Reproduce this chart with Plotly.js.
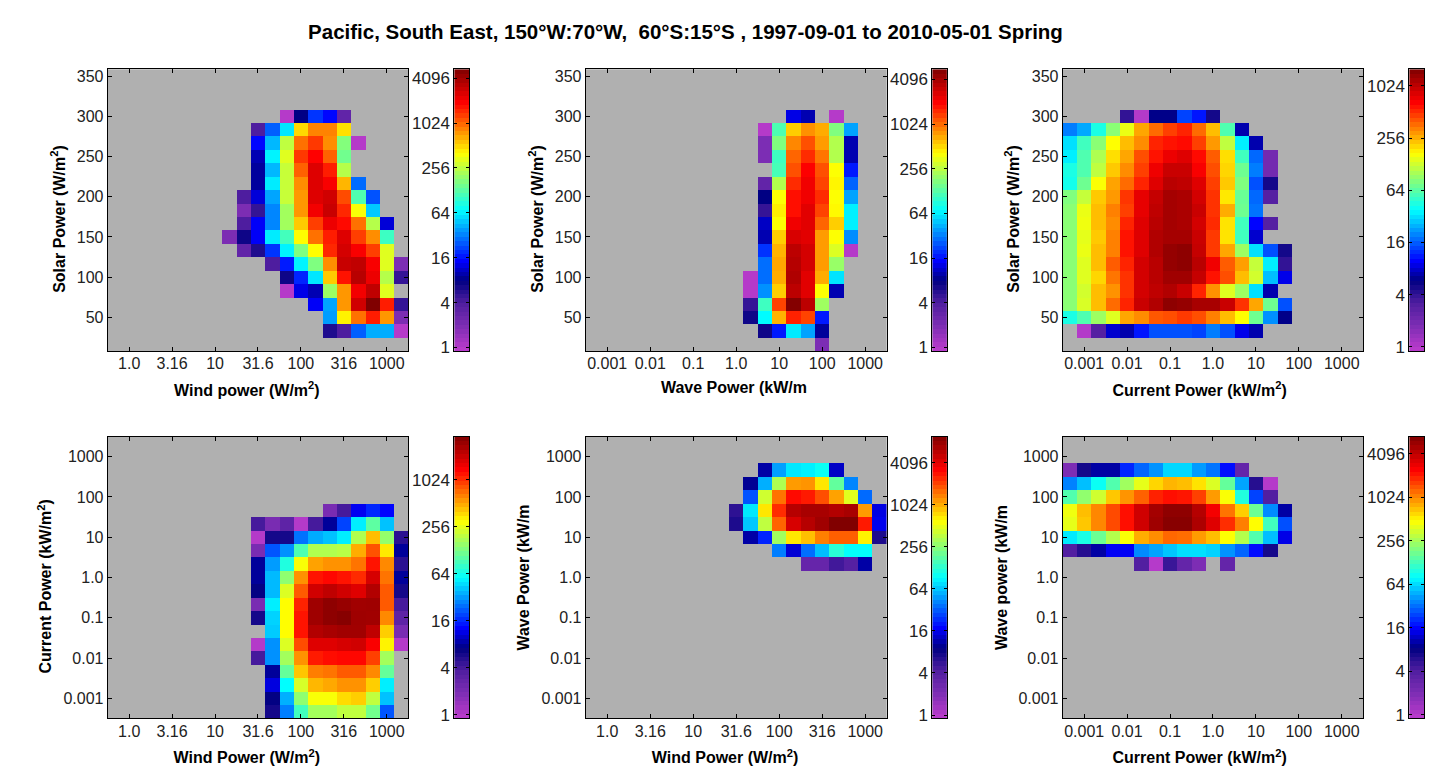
<!DOCTYPE html>
<html>
<head>
<meta charset="utf-8">
<script src="https://cdn.plot.ly/plotly-3.0.1.min.js"></script>
<style>body { margin: 0; background: #fff; }</style>
</head>
<body>
<div id="main-plot"></div>
<script>
const gap = n => Array(n).fill(0);

// axis ticks
const powerTickVals = [-3, -2, -1, 0, 1, 2, 3];
const powerTickText = ['0.001', '0.01', '0.1', '1.0', '10', '100', '1000'];
const windTickVals = [0, 0.5, 1, 1.5, 2, 2.5, 3];
const windTickText = ['1.0', '3.16', '10', '31.6', '100', '316', '1000'];
const solarTickVals = [50, 100, 150, 200, 250, 300, 350];

// colour bar ticks are counts on a log2 scale
const countTicks = [1, 4, 16, 64, 256, 1024, 4096];
const countTicksShort = [1, 4, 16, 64, 256, 1024];

// counts per bin, rows go from the bottom of the plot upward
const solarVsWind = [
  [],
  [...gap(15), 6, 4, 26, 42, 42, 1],
  [...gap(15), 38, 430, 950, 1600, 750, 2],
  [...gap(14), 14, 40, 750, 2800, 5400, 1600, 5],
  [...gap(12), 1, 13, 10, 200, 750, 2100, 3200, 320],
  [...gap(12), 7, 18, 60, 550, 1700, 3400, 2200, 240, 5],
  [...gap(11), 4, 17, 65, 165, 800, 3000, 3200, 2000, 320, 2],
  [...gap(9), 3, 6, 20, 65, 165, 400, 1500, 2700, 2000, 1300, 320],
  [...gap(8), 2, 7, 14, 62, 110, 400, 950, 1600, 2500, 1300, 800, 105],
  [...gap(9), 4, 14, 33, 210, 550, 1300, 2200, 1800, 950, 240, 12],
  [...gap(9), 2, 5, 33, 210, 750, 2100, 3000, 1500, 380, 50],
  [...gap(9), 4, 12, 40, 270, 750, 2500, 2800, 1200, 120, 24],
  [...gap(10), 9, 62, 270, 800, 2500, 2000, 620, 28],
  [...gap(10), 9, 45, 270, 1050, 2500, 1600, 240],
  [...gap(10), 10, 65, 320, 1350, 1900, 1050, 150],
  [...gap(10), 15, 45, 256, 950, 1350, 800, 170, 1],
  [...gap(10), 4, 26, 60, 500, 850, 850, 480],
  [...gap(12), 1, 8, 20, 15, 3],
  [], [], []
];

const solarVsWave = [
  [...gap(16), 2],
  [...gap(12), 7, 17, 62, 40, 9],
  [...gap(11), 7, 70, 650, 1600, 1300, 17],
  [...gap(11), 5, 108, 1300, 5400, 3400, 210],
  [...gap(11), 1, 36, 550, 3400, 2500, 400, 10],
  [...gap(11), 1, 29, 680, 3800, 2500, 680, 60],
  [...gap(12), 29, 700, 3600, 2800, 750, 200],
  [...gap(12), 20, 650, 3400, 2800, 750, 320, 1],
  [...gap(12), 10, 550, 2700, 2500, 750, 400, 35],
  [...gap(12), 11, 400, 2200, 2500, 1050, 550, 65],
  [...gap(12), 5, 450, 1800, 2500, 1300, 420, 65],
  [...gap(12), 8, 400, 1800, 2200, 1500, 400, 40],
  [...gap(12), 3, 240, 1500, 2200, 1300, 430, 27],
  [...gap(13), 115, 1200, 2000, 1200, 400, 17],
  [...gap(12), 2, 108, 1050, 1500, 950, 240, 10],
  [...gap(12), 2, 170, 850, 1200, 750, 240, 10],
  [...gap(12), 1, 120, 550, 800, 680, 170, 40],
  [...gap(14), 13, 10, 0, 1],
  [], [], []
];

const solarVsCurrent = [
  [],
  [0, 1, 3, 8, 7, 11, 15, 15, 15, 14, 19, 15, 9, 7],
  [44, 60, 95, 140, 270, 310, 410, 430, 480, 430, 330, 240, 169, 72, 21, 6],
  [85, 135, 240, 370, 540, 950, 1130, 1450, 1380, 1200, 1200, 950, 500, 270, 72, 15],
  [85, 130, 240, 300, 500, 890, 1024, 1130, 950, 540, 300, 140, 95, 32, 7],
  [85, 140, 210, 350, 500, 890, 1070, 1270, 1270, 980, 590, 430, 240, 130, 27, 9],
  [85, 140, 240, 400, 540, 890, 1070, 1380, 1450, 1070, 720, 400, 280, 120, 35, 4],
  [85, 150, 240, 330, 590, 815, 1130, 1380, 1450, 980, 480, 270, 95, 32, 15, 5],
  [85, 145, 225, 330, 590, 815, 1130, 1230, 1230, 950, 480, 195, 55, 8],
  [85, 155, 240, 310, 540, 815, 1070, 1230, 1180, 890, 520, 195, 55, 10, 3],
  [85, 150, 240, 330, 465, 770, 1024, 1230, 1180, 950, 500, 260, 72, 18],
  [80, 120, 225, 290, 490, 770, 980, 1230, 1180, 890, 500, 190, 70, 17, 3],
  [42, 72, 165, 275, 370, 540, 815, 1070, 1024, 815, 465, 225, 80, 15, 5],
  [44, 60, 116, 225, 310, 465, 730, 950, 950, 680, 430, 210, 72, 19, 2],
  [35, 60, 105, 200, 270, 430, 590, 740, 815, 620, 400, 200, 55, 17, 2],
  [32, 55, 85, 169, 240, 310, 540, 590, 620, 465, 290, 116, 35, 7],
  [19, 24, 44, 85, 150, 270, 370, 465, 540, 370, 240, 60, 7],
  [...gap(4), 4, 1, 6, 6, 14, 11, 5],
  [], [], []
];

const currentVsWind = [
  [...gap(11), 6, 27, 87, 165, 165, 200, 200, 120, 21],
  [...gap(11), 7, 36, 145, 290, 290, 370, 400, 200, 40],
  [...gap(11), 11, 57, 230, 460, 500, 570, 570, 400, 52],
  [...gap(11), 8, 110, 420, 640, 680, 790, 790, 600, 110],
  [...gap(10), 4, 30, 165, 570, 1150, 1250, 1300, 1300, 930, 165],
  [...gap(10), 1, 30, 240, 860, 1730, 1730, 1850, 1950, 1400, 320, 1],
  [...gap(11), 42, 302, 1200, 2450, 2650, 2800, 2800, 2225, 400, 2],
  [...gap(10), 6, 44, 302, 1200, 2860, 3250, 3450, 2860, 2800, 600, 3],
  [...gap(10), 2, 52, 302, 1100, 2860, 3250, 3050, 2800, 2860, 790, 4],
  [...gap(10), 7, 38, 240, 790, 1950, 2225, 1950, 1730, 2450, 790, 6],
  [...gap(10), 8, 38, 145, 570, 1200, 1300, 1200, 1050, 1850, 680, 8],
  [...gap(10), 8, 32, 70, 290, 520, 570, 570, 680, 1200, 600, 5],
  [...gap(10), 2, 21, 30, 95, 180, 180, 190, 490, 830, 340, 8],
  [...gap(10), 1, 6, 6, 25, 35, 40, 52, 180, 440, 150, 5],
  [...gap(10), 4, 2, 3, 1, 4, 8, 19, 52, 105, 40],
  [...gap(15), 2, 4, 12, 16, 13],
  [], [], [], [], []
];

const waveVsWind = [
  [], [], [], [], [], [], [], [], [], [], [],
  [...gap(15), 3, 3, 5, 4, 11],
  [...gap(13), 40, 14, 36, 61, 125, 95, 95],
  [...gap(11), 11, 22, 300, 700, 900, 1380, 1700, 1700, 650, 7],
  [...gap(10), 7, 65, 375, 1650, 4500, 6000, 7300, 9600, 9600, 2700, 16],
  [...gap(10), 6, 80, 700, 2400, 6000, 6800, 6800, 6200, 6800, 1150, 15],
  [...gap(11), 30, 420, 1500, 3000, 2700, 1900, 1100, 480, 35],
  [...gap(11), 10, 55, 330, 1150, 1200, 700, 190, 42],
  [...gap(12), 11, 50, 80, 85, 100, 13],
  [], []
];

const waveVsCurrent = [
  [], [], [], [], [], [], [], [], [], [], [],
  [...gap(5), 4, 1, 5, 3, 2, 0, 3],
  [4, 6, 10, 15, 15, 38, 45, 55, 65, 65, 60, 40, 30, 17, 7],
  [70, 95, 170, 280, 460, 800, 980, 1250, 1200, 900, 720, 470, 280, 140, 53, 14],
  [400, 680, 1020, 1500, 2200, 3600, 5400, 6600, 6600, 4800, 3150, 1800, 1075, 480, 125, 26],
  [430, 720, 1020, 1500, 2200, 3600, 5200, 6200, 6200, 4500, 2600, 1150, 650, 170, 38, 10],
  [140, 220, 340, 680, 940, 1300, 1950, 2200, 2100, 1600, 900, 460, 100, 24, 4],
  [36, 53, 85, 140, 245, 400, 620, 760, 720, 570, 370, 160, 45, 6, 1],
  [2, 7, 10, 10, 20, 30, 40, 62, 62, 42, 33, 17, 3],
  [], []
];

const panelMaxLog2 = [12.4, 12.45, 10.64, 11.83, 13.24, 12.78];
const minLog2 = -0.16;

const jetPurple = [
  [0, 'rgb(190,60,205)'],
  [0.09, 'rgb(125,45,180)'],
  [0.17, 'rgb(80,30,160)'],
  [0.25, 'rgb(0,0,130)'],
  [0.32, 'rgb(0,0,255)'],
  [0.5, 'rgb(0,255,255)'],
  [0.7, 'rgb(255,255,0)'],
  [0.88, 'rgb(255,0,0)'],
  [1, 'rgb(128,0,0)']
];

const W = 1445, H = 782;
const FONT = 'Liberation Sans, Arial, sans-serif';

// [left, right] of each plot and its colour bar, [top, bottom] of each row
const plotX = [[107.7, 408.2], [585.7, 886.7], [1062.7, 1363.2]];
const barX = [[454.3, 469], [932.3, 946.8], [1409.3, 1424]];
const rowY = [[69.3, 351], [436.6, 718.4]];

const nbsp = n => '&nbsp;'.repeat(n);

const panels = [
  {z: solarVsWind, col: 0, row: 0, xKind: 'wind', yKind: 'solar', ticks: countTicks, xStand: 13, yStand: 7,
   xTitle: 'Wind power (W/m<sup>2</sup>)' + nbsp(5), yTitle: 'Solar Power (W/m<sup>2</sup>)' + nbsp(4)},
  {z: solarVsWave, col: 1, row: 0, xKind: 'power', yKind: 'solar', ticks: countTicks, xStand: 10, yStand: 7,
   xTitle: 'Wave Power (kW/m' + nbsp(1), yTitle: 'Solar Power (W/m<sup>2</sup>)' + nbsp(4)},
  {z: solarVsCurrent, col: 2, row: 0, xKind: 'power', yKind: 'solar', ticks: countTicksShort, xStand: 13, yStand: 8,
   xTitle: 'Current Power (kW/m<sup>2</sup>)' + nbsp(6), yTitle: 'Solar Power (W/m<sup>2</sup>)' + nbsp(4)},
  {z: currentVsWind, col: 0, row: 1, xKind: 'wind', yKind: 'power', ticks: countTicksShort, xStand: 13, yStand: 7,
   xTitle: 'Wind Power (W/m<sup>2</sup>)' + nbsp(5), yTitle: 'Current Power (kW/m<sup>2</sup>)' + nbsp(4)},
  {z: waveVsWind, col: 1, row: 1, xKind: 'wind', yKind: 'power', ticks: countTicks, xStand: 13, yStand: 7,
   xTitle: 'Wind Power (W/m<sup>2</sup>)' + nbsp(5), yTitle: 'Wave Power (kW/m'},
  {z: waveVsCurrent, col: 2, row: 1, xKind: 'power', yKind: 'power', ticks: countTicks, xStand: 13, yStand: 6,
   xTitle: 'Current Power (kW/m<sup>2</sup>)' + nbsp(6), yTitle: 'Wave power (kW/m'}
];

const bins = (first, step) => Array.from({length: 21}, (_, i) => first + i * step);

const axisKinds = {
  wind: {centres: bins(-1 / 6, 1 / 6), range: [-0.25, 3.25], tickvals: windTickVals, ticktext: windTickText},
  power: {centres: bins(-10 / 3, 1 / 3), range: [-3.5, 3.5], tickvals: powerTickVals, ticktext: powerTickText},
  solar: {centres: bins(50 / 3, 50 / 3), range: [25 / 3, 1075 / 3], tickvals: solarTickVals, ticktext: solarTickVals.map(String)}
};

const toLog2 = rows => Array.from({length: 21}, (_, r) =>
    Array.from({length: 21}, (_, c) => (rows[r] && rows[r][c] > 0) ? Math.log2(rows[r][c]) : null));

const baseAxis = {
  showline: true, linecolor: '#000', linewidth: 1, mirror: 'allticks',
  ticks: 'inside', ticklen: 4, tickwidth: 1, tickcolor: '#000',
  showgrid: false, zeroline: false,
  tickfont: {family: FONT, size: 16, color: '#222'},
  tickangle: 0
};
const titleFont = {family: FONT, size: 16, color: '#000'};

const data = [];
const layout = {
  width: W, height: H,
  margin: {l: 0, r: 0, t: 0, b: 0},
  paper_bgcolor: '#fff',
  plot_bgcolor: '#b0b0b0',
  showlegend: false,
  title: {
    text: '<b>Pacific, South East, 150°W:70°W,  60°S:15°S , 1997-09-01 to 2010-05-01 Spring</b>',
    font: {family: FONT, size: 20.5, color: '#000'},
    x: 685.5 / W, xanchor: 'center', y: 1 - 32 / H, yanchor: 'middle'
  }
};

panels.forEach((p, i) => {
  const n1 = 2 * i + 1, n2 = 2 * i + 2;
  const xk = axisKinds[p.xKind], yk = axisKinds[p.yKind];
  const yDomain = [1 - rowY[p.row][1] / H, 1 - rowY[p.row][0] / H];
  const zmax = panelMaxLog2[i];

  data.push({
    type: 'heatmap', x: xk.centres, y: yk.centres, z: toLog2(p.z),
    xaxis: 'x' + n1, yaxis: 'y' + n1,
    zmin: minLog2, zmax: zmax, colorscale: jetPurple, showscale: false, hoverongaps: false
  });

  layout['xaxis' + n1] = Object.assign({}, baseAxis, {
    domain: [plotX[p.col][0] / W, plotX[p.col][1] / W], anchor: 'y' + n1,
    range: xk.range, tickmode: 'array', tickvals: xk.tickvals, ticktext: xk.ticktext,
    ticklabelstandoff: -2,
    title: {text: '<b>' + p.xTitle + '</b>', font: titleFont, standoff: p.xStand}
  });
  layout['yaxis' + n1] = Object.assign({}, baseAxis, {
    domain: yDomain, anchor: 'x' + n1,
    range: yk.range, tickmode: 'array', tickvals: yk.tickvals, ticktext: yk.ticktext,
    title: {text: '<b>' + p.yTitle + '</b>', font: titleFont, standoff: p.yStand}
  });

  // colour bar: the same scale drawn as a one column heatmap, labels on its left
  const levels = Array.from({length: 64}, (_, k) => minLog2 + (k + 0.5) * (zmax - minLog2) / 64);
  data.push({
    type: 'heatmap', x: [0], y: levels, z: levels.map(v => [v]),
    xaxis: 'x' + n2, yaxis: 'y' + n2,
    zmin: minLog2, zmax: zmax, colorscale: jetPurple, showscale: false, hoverinfo: 'skip'
  });
  layout['xaxis' + n2] = {
    domain: [barX[p.col][0] / W, barX[p.col][1] / W], anchor: 'y' + n2,
    range: [-0.5, 0.5], showticklabels: false, ticks: '', showgrid: false, zeroline: false,
    showline: true, linecolor: '#000', linewidth: 1, mirror: true
  };
  layout['yaxis' + n2] = Object.assign({}, baseAxis, {
    domain: yDomain, anchor: 'x' + n2,
    range: [minLog2, zmax], tickmode: 'array',
    tickvals: p.ticks.map(c => Math.log2(c)), ticktext: p.ticks.map(String), ticklen: 3,
    tickfont: {family: FONT, size: 17, color: '#222'}
  });
});

Plotly.newPlot('main-plot', data, layout, {displayModeBar: false, staticPlot: true});
</script>
</body>
</html>
